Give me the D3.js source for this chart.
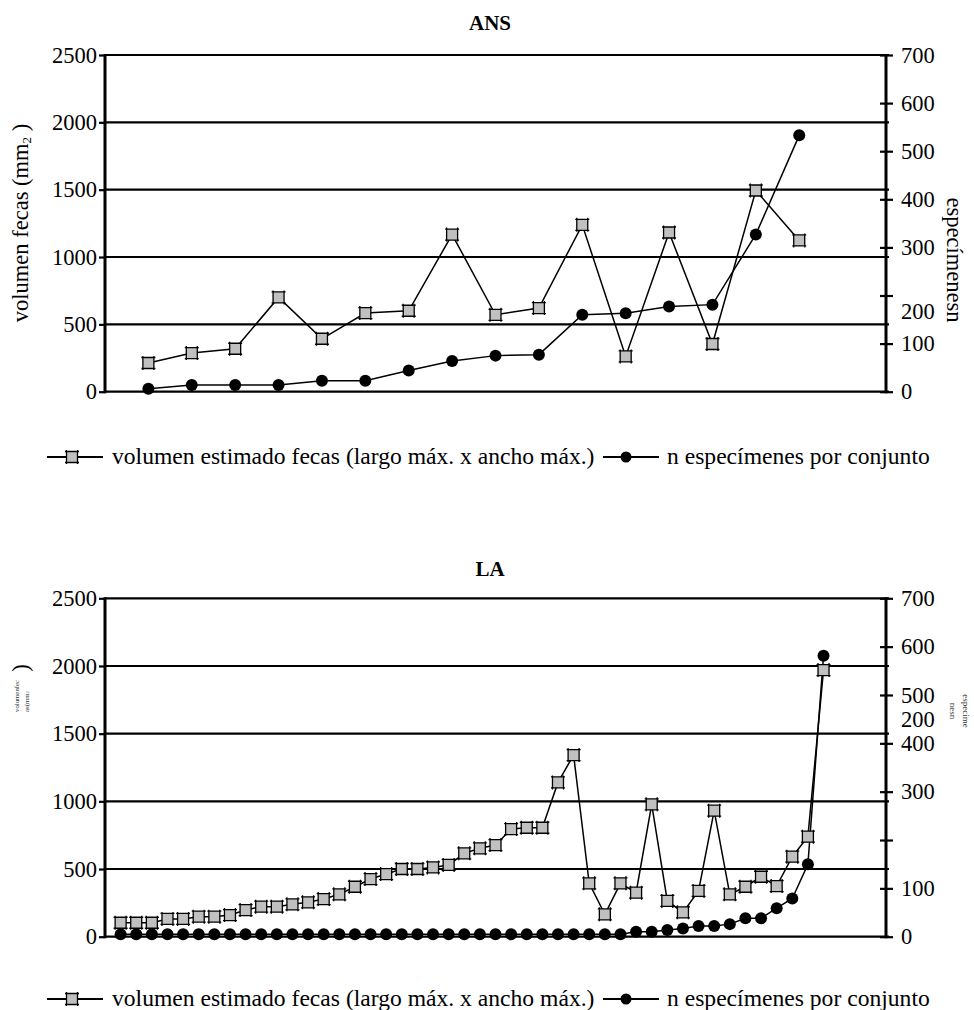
<!DOCTYPE html>
<html><head><meta charset="utf-8">
<script src="https://cdn.jsdelivr.net/npm/d3@7"></script>
<style>
body{margin:0;background:#fff;}
svg{display:block;}
svg text{font-family:"Liberation Serif","Times New Roman","DejaVu Serif",serif;}
</style></head><body>
<svg id="c" width="974" height="1010"></svg>
<script>
const leftTicks=[0,500,1000,1500,2000,2500];
const rightTicks=[0,100,200,300,400,500,600,700];
const ansVolume=[213,287,319,700,393,584,601,1167,571,621,1239,262,1182,354,1494,1123];
const ansN=[6,14,14,14,23,23,44,64,75,77,160,163,177,181,327,533];
const laVolume=[103,103,103,131,131,148,148,160,197,222,222,239,254,278,313,369,426,463,500,500,512,530,616,653,677,795,805,805,1140,1342,394,165,394,325,978,264,180,338,931,313,369,443,374,591,739,1970];
const laN=[5,5,5,5,5,5,5,5,5,5,5,5,5,5,5,5,5,5,5,5,5,5,5,5,5,5,5,5,5,5,5,5,5,10,10,14,17,22,22,26,38,38,59,79,150,581];
const legendLabels=["volumen estimado fecas (largo máx. x ancho máx.)","n especímenes por conjunto"];
const titles=["ANS","LA"];

const FONT='"Liberation Serif","Times New Roman","DejaVu Serif",serif';
const svg=d3.select("#c");
const X0=105,X1=886;
const sqPath="M-7,-5.5H7M-7,5.5H7M-5.5,-7V7M5.5,-7V7";

function squareMarker(sel){
  sel.append("rect").attr("x",-5.5).attr("y",-5.5).attr("width",11).attr("height",11)
    .attr("fill","#c0c0c0").attr("stroke","none");
  sel.append("path").attr("d",sqPath).attr("stroke","#000").attr("stroke-width",1.3).attr("fill","none");
}

function drawChart(o){
  const g=svg.append("g").attr("font-family",FONT);
  const x=d3.scaleLinear().domain([0,o.slots]).range([X0,X1]);
  const yL=d3.scaleLinear().domain([0,2500]).range([o.y0,o.y1]);
  const yR=d3.scaleLinear().domain([0,700]).range([o.y0,o.y1]);
  const fmt=d3.format("d");

  // gridlines (also x axis at 0)
  g.selectAll("line.grid").data(leftTicks).join("line").attr("class","grid")
    .attr("x1",X0).attr("x2",X1+3).attr("y1",d=>yL(d)).attr("y2",d=>yL(d))
    .attr("stroke","#000").attr("stroke-width",2.2);

  // left axis
  const la=g.append("g").attr("transform",`translate(${X0},0)`)
    .call(d3.axisLeft(yL).tickValues(leftTicks).tickFormat(fmt).tickSize(6).tickPadding(2).tickSizeOuter(0));
  la.attr("font-family",FONT).attr("font-size",22.5);
  la.select(".domain").remove();
  la.selectAll(".tick line").attr("stroke-width",2.2);
  la.selectAll("text").attr("fill","#000");

  // right axis
  const ra=g.append("g").attr("transform",`translate(${X1},0)`)
    .call(d3.axisRight(yR).tickValues(rightTicks).tickFormat(fmt).tickSize(7).tickPadding(8).tickSizeOuter(0));
  ra.attr("font-family",FONT).attr("font-size",22.5);
  ra.select(".domain").remove();
  ra.selectAll(".tick line").attr("x1",-6).attr("stroke-width",2.2);
  ra.selectAll("text").attr("fill","#000");
  ra.selectAll(".tick").filter(d=>d===200).select("text").attr("y",o.shift200);

  // axis lines
  g.append("line").attr("x1",X0).attr("x2",X0).attr("y1",o.y1-1).attr("y2",o.y0+1.5)
    .attr("stroke","#000").attr("stroke-width",3);
  g.append("line").attr("x1",X1).attr("x2",X1).attr("y1",o.y1-1).attr("y2",o.y0+1.5)
    .attr("stroke","#000").attr("stroke-width",3);

  // series lines
  const lineV=d3.line().x((d,i)=>x(i+1)).y(d=>yL(d));
  const lineN=d3.line().x((d,i)=>x(i+1)).y(d=>yR(d));
  g.append("path").attr("d",lineV(o.vol)).attr("fill","none").attr("stroke","#000").attr("stroke-width",1.5);
  g.append("path").attr("d",lineN(o.n)).attr("fill","none").attr("stroke","#000").attr("stroke-width",1.5);

  // markers
  g.selectAll("g.sq").data(o.vol).join("g").attr("class","sq")
    .attr("transform",(d,i)=>`translate(${x(i+1)},${yL(d)})`).call(squareMarker);
  g.selectAll("circle.pt").data(o.n).join("circle").attr("class","pt")
    .attr("cx",(d,i)=>x(i+1)).attr("cy",d=>yR(d)).attr("r",6).attr("fill","#000");

  // title
  g.append("text").attr("x",490).attr("y",o.titleY).attr("text-anchor","middle")
    .attr("font-size",21).attr("font-weight","bold").text(o.title);

  // legend
  const lg=g.append("g").attr("transform",`translate(0,${o.legendY})`);
  lg.append("line").attr("x1",47).attr("x2",103).attr("y1",0).attr("y2",0).attr("stroke","#000").attr("stroke-width",2);
  lg.append("g").attr("transform","translate(72,0)").call(squareMarker);
  lg.append("text").attr("x",112).attr("y",7).attr("font-size",23.6).text(legendLabels[0]);
  lg.append("line").attr("x1",603).attr("x2",659).attr("y1",0).attr("y2",0).attr("stroke","#000").attr("stroke-width",2);
  lg.append("circle").attr("cx",626).attr("cy",0).attr("r",5.5).attr("fill","#000");
  lg.append("text").attr("x",667).attr("y",7).attr("font-size",23.6).text(legendLabels[1]);
  return g;
}

const g1=drawChart({slots:18,y0:391.7,y1:55,vol:ansVolume,n:ansN,shift200:16,title:titles[0],titleY:30,legendY:457});
const g2=drawChart({slots:50,y0:936.7,y1:598.3,vol:laVolume,n:laN,shift200:-121,title:titles[1],titleY:576,legendY:999});

// axis titles, top chart
const t1=g1.append("text").attr("transform","translate(28,223) rotate(-90)").attr("text-anchor","middle").attr("font-size",22.5);
t1.append("tspan").text("volumen fecas (mm");
t1.append("tspan").attr("font-size",13).attr("dy",3).text("2");
t1.append("tspan").attr("dy",-3).text(" )");
g1.append("text").attr("transform","translate(947,260) rotate(90)").attr("text-anchor","middle").attr("font-size",22.5).text("especímenesn");

// axis titles, bottom chart (collapsed)
g2.append("text").attr("transform","translate(28,668) rotate(-90)").attr("text-anchor","middle").attr("font-size",22.5).text(")");
const t2=g2.append("text").attr("transform","translate(19,712) rotate(-90)").attr("text-anchor","start").attr("font-size",6.8).attr("fill","#333");
t2.append("tspan").attr("x",0).attr("y",0).text("volumenfec");
t2.append("tspan").attr("x",0).attr("y",10).text("as(mm");
t2.append("tspan").attr("font-size",4.5).text("2");
const t3=g2.append("text").attr("transform","translate(963,711) rotate(90)").attr("text-anchor","middle").attr("font-size",9).attr("fill","#333");
t3.append("tspan").attr("x",0).attr("y",0).text("especime");
t3.append("tspan").attr("x",0).attr("y",13).text("nesn");
</script>
</body></html>
